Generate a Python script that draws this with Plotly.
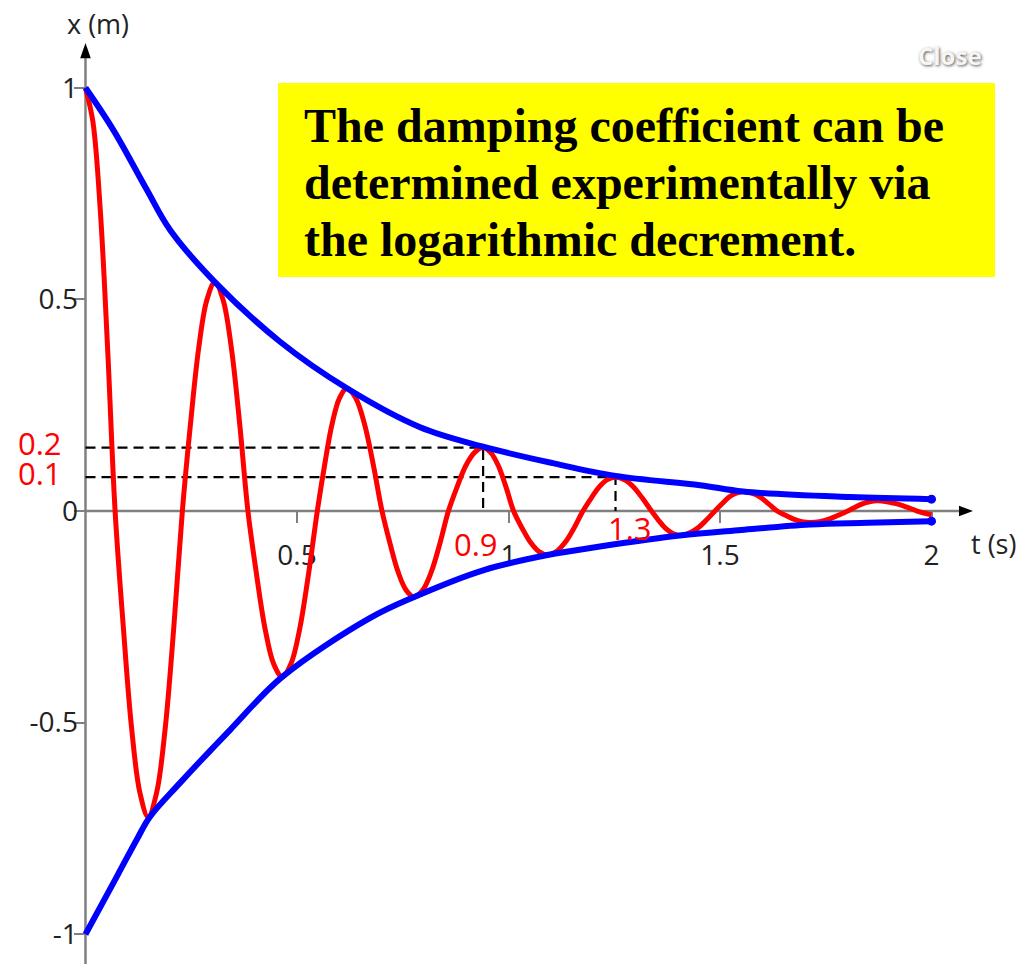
import plotly.graph_objects as go

# ---- data -------------------------------------------------------------
# damped oscillation x(t): turning points, zero crossings and flank points
t_osc = [0.000, 0.0175, 0.035, 0.0525, 0.070,
         0.0895, 0.109, 0.1285, 0.148, 0.16825, 0.1885, 0.20875, 0.229,
         0.24825, 0.2675, 0.28675, 0.306, 0.3255, 0.345, 0.3645, 0.384,
         0.40425, 0.4245, 0.44475, 0.465, 0.48575, 0.5065, 0.52725, 0.548,
         0.5655, 0.583, 0.6005, 0.618, 0.63875, 0.6595, 0.68025, 0.701,
         0.720, 0.739, 0.758, 0.777, 0.79725, 0.8175, 0.83775, 0.858,
         0.8785, 0.899, 0.9195, 0.940, 0.958, 0.976, 0.994, 1.012,
         1.032, 1.052, 1.072, 1.092, 1.113, 1.134, 1.155, 1.176,
         1.19525, 1.2145, 1.23375, 1.253, 1.27425, 1.2955, 1.31675, 1.338,
         1.35475, 1.3715, 1.38825, 1.405, 1.42575, 1.4465, 1.46725, 1.488,
         1.50475, 1.5215, 1.53825, 1.555, 1.575, 1.595, 1.615, 1.635,
         1.6545, 1.674, 1.6935, 1.713, 1.73525, 1.7575, 1.77975, 1.802,
         1.81925, 1.8365, 1.85375, 1.871, 1.89475, 1.9185, 1.94225, 1.966,
         2.000]
x_osc = [1.000, 0.920, 0.710, 0.380, 0.0,
         -0.275, -0.513, -0.665, -0.723, -0.665, -0.513, -0.275, 0.0,
         0.206, 0.384, 0.498, 0.541, 0.498, 0.384, 0.206, 0.0,
         -0.149, -0.278, -0.361, -0.392, -0.361, -0.278, -0.149, 0.0,
         0.110, 0.206, 0.267, 0.290, 0.267, 0.206, 0.110, 0.0,
         -0.077, -0.144, -0.187, -0.203, -0.187, -0.144, -0.077, 0.0,
         0.057, 0.107, 0.138, 0.150, 0.138, 0.107, 0.057, 0.0,
         -0.040, -0.074, -0.096, -0.104, -0.096, -0.074, -0.040, 0.0,
         0.030, 0.057, 0.074, 0.080, 0.074, 0.057, 0.030, 0.0,
         -0.022, -0.041, -0.053, -0.058, -0.053, -0.041, -0.022, 0.0,
         0.017, 0.033, 0.042, 0.046, 0.042, 0.033, 0.017, 0.0,
         -0.010, -0.019, -0.025, -0.027, -0.025, -0.019, -0.010, 0.0,
         0.009, 0.017, 0.022, 0.024, 0.022, 0.017, 0.009, 0.0,
         -0.009]

# upper and lower decay envelopes
t_upper = [0.0, 0.066, 0.145, 0.200, 0.306, 0.460, 0.618, 0.791, 0.940,
           1.105, 1.253, 1.453, 1.555, 1.807, 2.0]
x_upper = [1.0, 0.90, 0.759, 0.664, 0.541, 0.400, 0.290, 0.198, 0.152,
           0.113, 0.083, 0.061, 0.046, 0.033, 0.028]
t_lower = [0.0, 0.075, 0.122, 0.152, 0.223, 0.342, 0.465, 0.672, 0.777,
           0.940, 1.092, 1.216, 1.405, 1.550, 1.713, 1.850, 2.0]
x_lower = [-1.0, -0.862, -0.775, -0.723, -0.643, -0.517, -0.392, -0.253, -0.203,
           -0.140, -0.104, -0.084, -0.058, -0.045, -0.032, -0.028, -0.024]

# two successive peaks used for the logarithmic decrement
peak_t = [0.940, 1.253]
peak_x = [0.150, 0.080]
peak_t_text = ["0.9", "1.3"]
peak_x_text = ["0.2", "0.1"]

x_ticks = [0.5, 1, 1.5, 2]
x_tick_text = ["0.5", "1", "1.5", "2"]
y_ticks = [-1, -0.5, 0, 0.5, 1]
y_tick_text = ["-1", "-0.5", "0", "0.5", "1"]

note_lines = ["The damping coefficient can be",
              "determined experimentally via",
              "the logarithmic decrement."]

# ---- layout geometry ---------------------------------------------------
W, H = 1020, 964
X_RANGE = [-0.2021, 2.2092]
Y_RANGE = [-1.0704, 1.2075]

RED = "#FF0000"
BLUE = "#0000FF"
AXIS = "#808080"

fig = go.Figure()

# dashed guide lines from the two peaks to the axes
for tp, xp in zip(peak_t, peak_x):
    fig.add_trace(go.Scatter(
        x=[0, tp, tp], y=[xp, xp, 0], mode="lines",
        line=dict(color="black", width=2.2, dash="10px,6px"),
        hoverinfo="skip"))

# oscillation
fig.add_trace(go.Scatter(
    x=t_osc, y=x_osc, mode="lines",
    line=dict(color=RED, width=5, shape="spline", smoothing=1.0),
    hoverinfo="skip"))

# envelopes
for tt, xx in ((t_upper, x_upper), (t_lower, x_lower)):
    fig.add_trace(go.Scatter(
        x=tt, y=xx, mode="lines",
        line=dict(color=BLUE, width=6, shape="spline", smoothing=1.0),
        hoverinfo="skip"))
    fig.add_trace(go.Scatter(
        x=[tt[-1]], y=[xx[-1]], mode="markers",
        marker=dict(color=BLUE, size=9), hoverinfo="skip"))

# axis lines with arrow heads
shapes = [
    dict(type="line", xref="x", yref="y", x0=0, x1=2.07, y0=0, y1=0,
         line=dict(color=AXIS, width=2.5), layer="below"),
    dict(type="line", xref="x", yref="y", x0=0, x1=0, y0=Y_RANGE[0], y1=1.075,
         line=dict(color=AXIS, width=2.5), layer="below"),
    dict(type="path", xref="x", yref="y",
         path="M 2.065,-0.0125 L 2.098,0 L 2.065,0.0125 Z",
         fillcolor="black", line=dict(width=0), layer="below"),
    dict(type="path", xref="x", yref="y",
         path="M -0.0125,1.070 L 0,1.106 L 0.0125,1.070 Z",
         fillcolor="black", line=dict(width=0), layer="below"),
    # note box
    dict(type="rect", xref="paper", yref="paper",
         x0=278 / W, x1=995 / W, y0=1 - 277 / H, y1=1 - 83 / H,
         fillcolor="#FFFF00", line=dict(width=0), layer="above"),
]

annotations = []
# axis titles
title_font = dict(family="Open Sans", size=27, color="#222")
annotations.append(dict(x=0.03, y=1.151, xref="x", yref="y", text="x (m)",
                        showarrow=False, xanchor="center", yanchor="middle",
                        font=title_font))
annotations.append(dict(x=2.088, y=-0.076, xref="x", yref="y", text="t (s)",
                        showarrow=False, xanchor="left", yanchor="middle",
                        font=title_font))
# peak labels
label_font = dict(family="Open Sans", size=31, color=RED)
annotations.append(dict(x=-0.1076, y=0.161, xref="x", yref="y", text=peak_x_text[0],
                        showarrow=False, font=label_font, height=28, valign="middle"))
annotations.append(dict(x=-0.1076, y=0.090, xref="x", yref="y", text=peak_x_text[1],
                        showarrow=False, font=label_font, height=28, valign="middle"))
annotations.append(dict(x=0.923, y=-0.078, xref="x", yref="y", text=peak_t_text[0],
                        showarrow=False, font=label_font))
annotations.append(dict(x=1.287, y=-0.040, xref="x", yref="y", text=peak_t_text[1],
                        showarrow=False, font=label_font))
# note text
for i, line in enumerate(note_lines):
    annotations.append(dict(
        x=302 / W, y=1 - (126 + 56.5 * i) / H, xref="paper", yref="paper",
        text="<b>" + line + "</b>", showarrow=False,
        xanchor="left", yanchor="middle",
        font=dict(family="Liberation Serif", size=48, color="black")))
# close button caption
annotations.append(dict(
    x=950 / W, y=1 - 55 / H, xref="paper", yref="paper", text="<b>Close</b>",
    showarrow=False, xanchor="center", yanchor="middle",
    font=dict(family="Open Sans", size=24, color="#f6f6f6",
              shadow="1px 1px 3px #555")))

tick_font = dict(family="Open Sans", size=28, color="#222")
fig.update_layout(
    width=W, height=H,
    margin=dict(l=0, r=0, t=0, b=0, pad=0),
    paper_bgcolor="white", plot_bgcolor="white",
    showlegend=False,
    shapes=shapes, annotations=annotations,
    xaxis=dict(range=X_RANGE, anchor="free", position=(H - 511) / H,
               showgrid=False, zeroline=False, showline=False,
               ticks="outside", ticklen=11, tickwidth=2, tickcolor=AXIS,
               tickvals=x_ticks, ticktext=x_tick_text, tickfont=tick_font,
               ticklabelstandoff=8,
               layer="below traces", automargin=False, fixedrange=True),
    yaxis=dict(range=Y_RANGE, anchor="free", position=85.5 / W,
               showgrid=False, zeroline=False, showline=False,
               ticks="outside", ticklen=12, tickwidth=2, tickcolor=AXIS,
               tickvals=y_ticks, ticktext=y_tick_text, tickfont=tick_font,
               ticklabelstandoff=-10,
               layer="below traces", automargin=False, fixedrange=True),
)

fig.write_html("out.html", config={"displayModeBar": False})
